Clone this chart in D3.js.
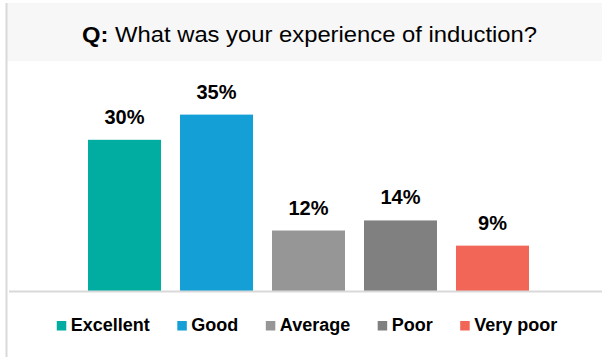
<!DOCTYPE html>
<html>
<head>
<meta charset="utf-8">
<script src="https://cdn.jsdelivr.net/npm/d3@7"></script>
<style>
  body { margin: 0; background: #fff; }
  svg { display: block; font-family: "Liberation Sans", Arial, sans-serif; }
</style>
</head>
<body>
<div id="chart"></div>
<script>
// data
var categories = ["Excellent", "Good", "Average", "Poor", "Very poor"];
var values = [30, 35, 12, 14, 9];
var colors = ["#00ada0", "#14a0d6", "#969696", "#808080", "#f26658"];

var width = 602, height = 357;
var baseY = 291;

var svg = d3.select("#chart").append("svg")
  .attr("width", width)
  .attr("height", height);

// title band
svg.append("rect")
  .attr("x", 7).attr("y", 3)
  .attr("width", width - 7).attr("height", 58)
  .attr("fill", "#f7f7f7");

// left border
svg.append("line")
  .attr("x1", 6.5).attr("x2", 6.5)
  .attr("y1", 3).attr("y2", height)
  .attr("stroke", "#d9d9d9")
  .attr("stroke-width", 2);

var title = svg.append("text")
  .attr("x", 82).attr("y", 42)
  .attr("textLength", 455)
  .attr("lengthAdjust", "spacingAndGlyphs")
  .style("font-size", "22px")
  .attr("fill", "#000");
title.append("tspan").style("font-weight", "bold").text("Q:");
title.append("tspan").text(" What was your experience of induction?");

var x = d3.scaleBand()
  .domain(categories)
  .range([78.5, 538.5])
  .paddingInner(0.2065)
  .paddingOuter(0.1033);

var y = d3.scaleLinear()
  .domain([0, 40])
  .range([baseY, baseY - 5.04 * 40]);

svg.selectAll("rect.bar")
  .data(values)
  .enter().append("rect")
  .attr("class", "bar")
  .attr("x", function (d, i) { return x(categories[i]); })
  .attr("y", function (d) { return y(d); })
  .attr("width", x.bandwidth())
  .attr("height", function (d) { return y(0) - y(d); })
  .attr("fill", function (d, i) { return colors[i]; });

svg.selectAll("text.bar-label")
  .data(values)
  .enter().append("text")
  .attr("class", "bar-label")
  .attr("x", function (d, i) { return x(categories[i]) + x.bandwidth() / 2; })
  .attr("y", function (d) { return y(d) - 16; })
  .attr("text-anchor", "middle")
  .style("font-size", "20px")
  .style("font-weight", "bold")
  .attr("fill", "#000")
  .text(function (d) { return d + "%"; });

// baseline
svg.append("line")
  .attr("x1", 9).attr("x2", width)
  .attr("y1", baseY + 0.5).attr("y2", baseY + 0.5)
  .attr("stroke", "#d9d9d9")
  .attr("stroke-width", 2);

// legend
var legend = svg.append("g").attr("class", "legend");
var lx = 0;
categories.forEach(function (c, i) {
  var item = legend.append("g");
  item.append("rect")
    .attr("x", lx).attr("y", 321)
    .attr("width", 9.5).attr("height", 9.5)
    .attr("fill", colors[i]);
  var t = item.append("text")
    .attr("x", lx + 14).attr("y", 331)
    .style("font-size", "18px")
    .style("font-weight", "bold")
    .attr("fill", "#000")
    .text(c);
  lx += 14 + t.node().getComputedTextLength() + (i < categories.length - 1 ? 27.5 : 0);
});
legend.attr("transform", "translate(" + (307 - lx / 2) + ",0)");
</script>
</body>
</html>
